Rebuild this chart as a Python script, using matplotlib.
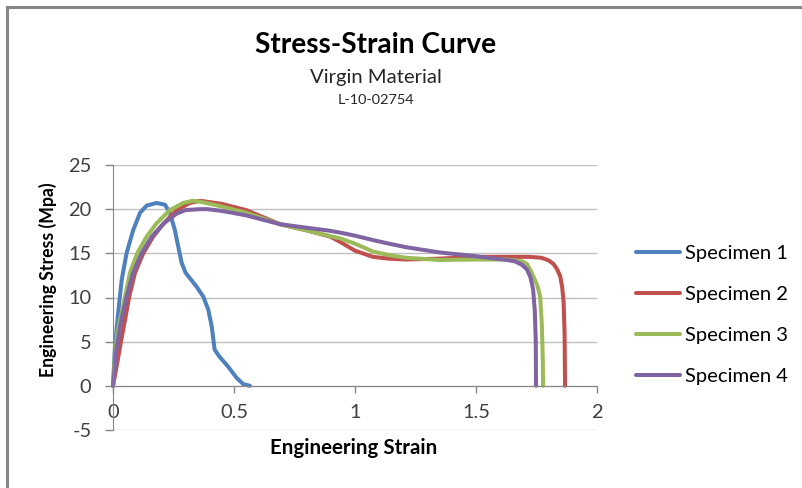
"""Stress-strain curves, virgin material (L-10-02754)."""

import matplotlib.pyplot as plt
from matplotlib.lines import Line2D

plt.rcParams["font.family"] = ["Lato", "DejaVu Sans"]

# ---------------------------------------------------------------------------
# data
# ---------------------------------------------------------------------------
strain_1 = [0, 0.008, 0.021, 0.036, 0.056, 0.083, 0.112, 0.139, 0.18, 0.215,
            0.235, 0.256, 0.27, 0.284, 0.30, 0.346, 0.373, 0.394, 0.408, 0.42,
            0.44, 0.475, 0.511, 0.538, 0.566]
stress_1 = [0, 4.4, 8.2, 12.0, 15.0, 17.6, 19.6, 20.4, 20.7, 20.5,
            19.6, 17.6, 15.7, 13.9, 12.8, 11.2, 10.1, 8.6, 6.7, 4.1,
            3.3, 2.2, 0.9, 0.2, 0]

strain_2 = [0, 0.015, 0.032, 0.05, 0.067, 0.091, 0.125, 0.166, 0.21, 0.263,
            0.318, 0.36, 0.45, 0.55, 0.69, 0.80, 0.897, 0.938, 1.00, 1.074,
            1.14, 1.21, 1.35, 1.50, 1.63, 1.72, 1.77, 1.80, 1.82, 1.835,
            1.848, 1.856, 1.862, 1.866, 1.868]
stress_2 = [0, 2.2, 4.9, 7.5, 10.1, 12.8, 15.0, 16.9, 18.4, 19.9,
            20.7, 20.95, 20.6, 19.9, 18.3, 17.6, 16.9, 16.3, 15.3, 14.6,
            14.4, 14.3, 14.4, 14.6, 14.6, 14.6, 14.5, 14.2, 13.8, 13.2,
            12.4, 11.2, 9.5, 6.0, 0]

strain_3 = [0, 0.008, 0.018, 0.05, 0.07, 0.10, 0.139, 0.18, 0.235, 0.29,
            0.33, 0.36, 0.45, 0.55, 0.69, 0.80, 0.897, 0.938, 1.00, 1.074,
            1.14, 1.21, 1.35, 1.50, 1.63, 1.69, 1.71, 1.725, 1.74, 1.755,
            1.765, 1.772, 1.776, 1.777]
stress_3 = [0, 3.3, 6.0, 10.1, 12.8, 15.0, 16.9, 18.4, 19.9, 20.7,
            20.95, 20.85, 20.3, 19.6, 18.3, 17.6, 16.95, 16.7, 16.1, 15.2,
            14.8, 14.5, 14.25, 14.3, 14.3, 14.1, 13.8, 13.1, 12.2, 11.2,
            10.1, 7.0, 3.0, 0]

strain_4 = [0, 0.012, 0.029, 0.056, 0.083, 0.118, 0.16, 0.21, 0.263, 0.30,
            0.36, 0.39, 0.45, 0.55, 0.69, 0.80, 0.897, 0.938, 1.00, 1.074,
            1.14, 1.21, 1.35, 1.49, 1.627, 1.66, 1.69, 1.71, 1.725, 1.736,
            1.743, 1.747, 1.748]
stress_4 = [0, 3.7, 6.7, 10.1, 12.8, 15.0, 16.9, 18.4, 19.5, 19.9,
            20.0, 20.0, 19.8, 19.3, 18.3, 17.9, 17.55, 17.35, 17.0, 16.5,
            16.1, 15.7, 15.1, 14.7, 14.25, 14.1, 13.7, 13.2, 12.3, 10.9,
            8.5, 5.0, 0]

series = [
    ("Specimen 1", strain_1, stress_1, "#4F81BD"),
    ("Specimen 2", strain_2, stress_2, "#C0504D"),
    ("Specimen 3", strain_3, stress_3, "#9BBB59"),
    ("Specimen 4", strain_4, stress_4, "#8064A2"),
]

x_ticks = [0, 0.5, 1, 1.5, 2]
x_tick_labels = ["0", "0.5", "1", "1.5", "2"]
y_ticks = [-5, 0, 5, 10, 15, 20, 25]

# ---------------------------------------------------------------------------
# figure
# ---------------------------------------------------------------------------
W, H = 803, 488
fig = plt.figure(figsize=(W / 100, H / 100), dpi=100)
ax = fig.add_axes([113 / W, 1 - 430 / H, (597 - 113) / W, (430 - 165) / H])
renderer = fig.canvas.get_renderer()

AXIS_GRAY = "#868686"
GRID_GRAY = "#BFBFBF"


def fit_width(txt, target_px, vertical=False):
    """Scale a text's font size so its drawn extent matches target_px."""
    bb = txt.get_window_extent(renderer)
    size = bb.height if vertical else bb.width
    txt.set_fontsize(txt.get_fontsize() * target_px / size)
    return txt.get_fontsize()


for label, x, y, c in series:
    ax.plot(x, y, color=c, linewidth=2.9, label=label,
            solid_joinstyle="round", solid_capstyle="round", clip_on=False)

ax.set_xlim(0, 2)
ax.set_ylim(-5, 25)
ax.set_xticks(x_ticks)
ax.set_xticklabels(x_tick_labels)
ax.set_yticks(y_ticks)
ax.set_yticklabels([str(v) for v in y_ticks])

ax.grid(axis="y", color=GRID_GRAY, linewidth=1.0)
ax.set_axisbelow(True)

for side in ("top", "right"):
    ax.spines[side].set_visible(False)
ax.spines["bottom"].set_position(("data", 0))
ax.spines["left"].set_position(("data", 0))
ax.spines["bottom"].set_color(AXIS_GRAY)
ax.spines["left"].set_color(AXIS_GRAY)

# tick label size from the width of "0.5" (~28 px in the reference)
probe = fig.text(0, 0, "0.5", fontsize=10)
tick_fs = fit_width(probe, 28)
probe.remove()

ax.tick_params(axis="x", direction="out", length=5, width=1,
               color=AXIS_GRAY, labelsize=tick_fs, pad=8)
ax.tick_params(axis="y", direction="out", length=5.5, width=1,
               color=AXIS_GRAY, labelsize=tick_fs, pad=10)
for t in ax.get_xticklabels() + ax.get_yticklabels():
    t.set_color("#404040")

# axis titles
xl = fig.text(354 / W, 1 - 448 / H, "Engineering Strain", ha="center",
              va="center", fontsize=10.5, fontweight="bold")
fit_width(xl, 167)
yl = fig.text(48 / W, 1 - 280 / H, "Engineering Stress (Mpa)", ha="center",
              va="center", rotation=90, fontsize=10.5, fontweight="bold")
fit_width(yl, 195, vertical=True)

# chart titles
t1 = fig.text(376 / W, 1 - 45 / H, "Stress-Strain Curve", ha="center",
              va="center", fontsize=15, fontweight="bold")
fit_width(t1, 242)
t2 = fig.text(376 / W, 1 - 77 / H, "Virgin Material", ha="center",
              va="center", fontsize=11, color="#262626")
fit_width(t2, 132)
t3 = fig.text(376 / W, 1 - 100 / H, "L-10-02754", ha="center",
              va="center", fontsize=9, color="#262626")
fit_width(t3, 77)

# legend
probe = fig.text(0, 0, "Specimen 1", fontsize=11)
leg_fs = fit_width(probe, 103)
probe.remove()
fs_px = leg_fs * 100 / 72
handles = [Line2D([], [], color=c, linewidth=2.9, solid_capstyle="round")
           for _, _, _, c in series]
labels = [s[0] for s in series]
fig.legend(handles, labels, loc="center left",
           bbox_to_anchor=(636 / W, 1 - 315 / H), frameon=False,
           fontsize=leg_fs, handlelength=44 / fs_px,
           handletextpad=5 / fs_px, labelspacing=(48 - 1.2 * fs_px) / fs_px,
           borderaxespad=0, borderpad=0)

# outer chart frame
fig.add_artist(Line2D([7 / W, 7 / W], [0, 1 - 7 / H],
                      transform=fig.transFigure, color="#878787", lw=2.2))
fig.add_artist(Line2D([7 / W, 1], [1 - 7 / H, 1 - 7 / H],
                      transform=fig.transFigure, color="#878787", lw=2.2))

fig.savefig("out.png", dpi=100)
